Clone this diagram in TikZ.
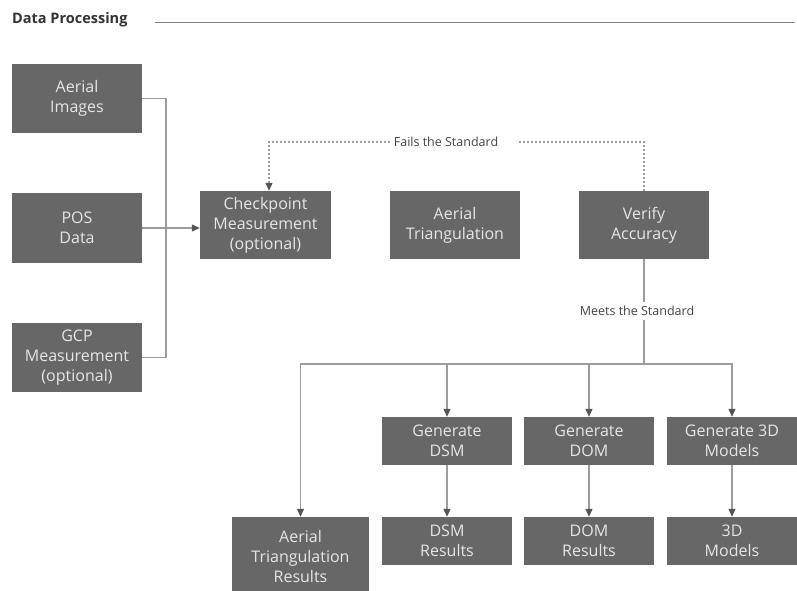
\documentclass[tikz,border=0pt]{standalone}
\usepackage{fontspec}
\setmainfont{Open Sans}
\usetikzlibrary{arrows.meta}
\definecolor{boxgray}{HTML}{676767}
\definecolor{boxtext}{HTML}{E6E6E6}
\definecolor{linegray}{HTML}{9C9C9C}
\definecolor{tipgray}{HTML}{555555}
\definecolor{labelgray}{HTML}{444444}
\definecolor{titlegray}{HTML}{333333}
\begin{document}
\begin{tikzpicture}[x=1pt,y=-1pt,
  box/.style={fill=boxgray, text=boxtext, align=center, font=\fontsize{16}{20}\selectfont, inner sep=0pt, minimum width=130pt},
  conn/.style={draw=linegray, line width=1.2pt},
  dotconn/.style={draw=linegray, line width=1.2pt, dash pattern=on 2pt off 2pt},
  tip/.style={-{Triangle[length=8pt,width=7pt,color=tipgray]}},
  lbl/.style={text=labelgray, font=\fontsize{12.5}{15}\selectfont, inner sep=0pt}]
\useasboundingbox (0,0) rectangle (797,590);
\fill[white] (0,0) rectangle (797,590);
% title
\node[anchor=west, inner sep=0pt, text=titlegray, font=\bfseries\fontsize{14.5}{17}\selectfont] (title) at (12,20) {Data Processing};
\coordinate (rl0) at (155,22.5);
\coordinate (rl1) at (795,22.5);
\draw[draw=gray, line width=1pt] (rl0) -- (rl1);
% left column
\node[box, minimum height=69pt] (ai) at (77,98.5) {Aerial\\Images};
\node[box, minimum height=70pt] (pos) at (77,228) {POS\\Data};
\node[box, minimum height=69pt] (gcp) at (77,357.5) {GCP\\Measurement\\(optional)};
% top row
\node[box, minimum width=131pt, minimum height=68pt] (cp) at (265.5,225) {Checkpoint\\Measurement\\(optional)};
\node[box, minimum height=68pt] (at) at (455,225) {Aerial\\Triangulation};
\node[box, minimum height=68pt] (va) at (644,225) {Verify\\Accuracy};
% bottom rows
\node[box, minimum width=137pt, minimum height=78pt] (atr) at (300.5,556) {Aerial\\Triangulation\\Results};
\node[box, minimum height=48pt] (gdsm) at (447,441) {Generate\\DSM};
\node[box, minimum height=48pt] (gdom) at (589,441) {Generate\\DOM};
\node[box, minimum height=48pt] (g3d) at (732,441) {Generate 3D\\Models};
\node[box, minimum height=48pt] (rdsm) at (447,541) {DSM\\Results};
\node[box, minimum height=48pt] (rdom) at (589,541) {DOM\\Results};
\node[box, minimum height=48pt] (r3d) at (732,541) {3D\\Models};
% labels
\node[lbl] (fails) at (446,142) {Fails the Standard};
\node[lbl] (meets) at (637,311) {Meets the Standard};
% inputs
\coordinate (j) at (166,228);
\draw[conn] (ai.east) -| (j);
\draw[conn] (gcp.east) -| (j);
\draw[conn,tip] (pos.east) -- (pos.east -| cp.west);
% fails loop
\coordinate (fl) at (390,142);
\coordinate (fr) at (518,142);
\draw[dotconn] (va.north) |- (fr);
\draw[dotconn,tip] (fl) -| ([xshift=3.5pt]cp.north);
% meets
\coordinate (m1) at (644,302);
\coordinate (m2) at (644,320);
\coordinate (hub) at (644,364);
\draw[conn] (va.south) -- (m1);
\draw[conn] (m2) -- (hub);
\draw[conn,tip] (hub) -| (atr.north);
\draw[conn,tip] (hub) -| (g3d.north);
\draw[conn,tip] (gdsm.north |- hub) -- (gdsm.north);
\draw[conn,tip] (gdom.north |- hub) -- (gdom.north);
\draw[conn,tip] (gdsm.south) -- (rdsm.north);
\draw[conn,tip] (gdom.south) -- (rdom.north);
\draw[conn,tip] (g3d.south) -- (r3d.north);
\end{tikzpicture}
\end{document}
